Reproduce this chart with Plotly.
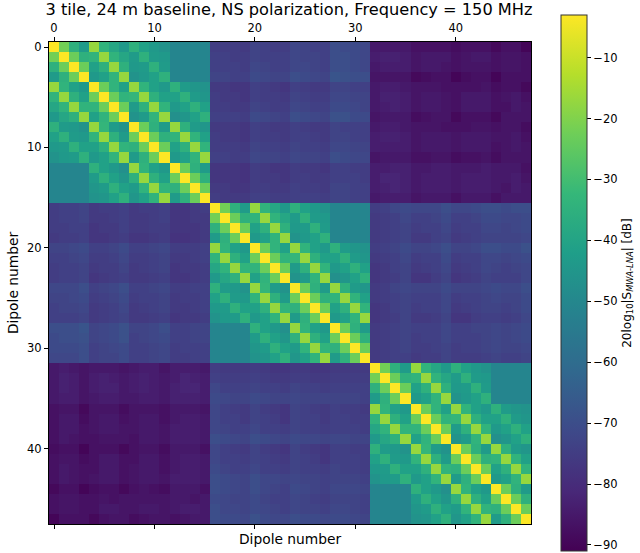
import numpy as np
import plotly.graph_objects as go

# Same-tile coupling in dB (16 dipoles per tile)
tile_self = [
 [-3,-22,-35,-43,-17,-34,-39,-44,-35,-41,-44,-46,-51,-51,-51,-51],
 [-22,-3,-23,-35,-34,-17,-34,-39,-43,-35,-43,-44,-51,-51,-51,-51],
 [-35,-23,-3,-23,-41,-35,-17,-35,-44,-43,-35,-43,-51,-51,-51,-51],
 [-43,-35,-23,-3,-44,-41,-34,-17,-46,-44,-41,-35,-51,-51,-51,-51],
 [-17,-34,-41,-44,-3,-23,-34,-41,-17,-34,-41,-44,-35,-43,-45,-46],
 [-34,-17,-35,-41,-23,-3,-23,-34,-33,-17,-35,-41,-41,-35,-43,-45],
 [-39,-34,-17,-34,-34,-23,-3,-23,-43,-35,-17,-34,-44,-41,-35,-41],
 [-44,-39,-35,-17,-41,-34,-23,-3,-46,-43,-34,-17,-47,-45,-41,-35],
 [-35,-43,-44,-46,-17,-33,-43,-46,-3,-23,-35,-43,-17,-35,-43,-45],
 [-41,-35,-43,-44,-34,-17,-35,-43,-23,-3,-23,-35,-34,-17,-34,-41],
 [-44,-43,-35,-41,-41,-35,-17,-34,-35,-23,-3,-23,-41,-35,-17,-34],
 [-46,-44,-43,-35,-44,-41,-34,-17,-43,-35,-23,-3,-44,-41,-34,-17],
 [-51,-51,-51,-51,-35,-41,-44,-47,-17,-34,-41,-44,-3,-23,-35,-43],
 [-51,-51,-51,-51,-43,-35,-41,-45,-35,-17,-35,-41,-23,-3,-23,-35],
 [-51,-51,-51,-51,-45,-43,-35,-41,-43,-34,-17,-34,-35,-23,-3,-23],
 [-51,-51,-51,-51,-46,-45,-41,-35,-45,-41,-34,-17,-43,-35,-23,-3],
]
# Tile 1 (rows) against tile 2 (columns)
tile1_tile2 = [
 [-75,-75,-75,-76,-73,-74,-75,-75,-72,-73,-74,-74,-70,-71,-71,-72],
 [-74,-74,-75,-75,-73,-74,-74,-74,-72,-73,-73,-74,-70,-70,-71,-72],
 [-74,-74,-74,-75,-72,-73,-74,-74,-72,-72,-73,-74,-70,-70,-71,-72],
 [-73,-73,-74,-74,-71,-72,-73,-73,-70,-71,-72,-73,-68,-69,-70,-70],
 [-76,-76,-77,-77,-74,-75,-76,-77,-74,-75,-76,-76,-73,-73,-74,-74],
 [-75,-76,-76,-77,-74,-75,-75,-76,-73,-74,-75,-75,-72,-72,-73,-73],
 [-75,-75,-76,-76,-73,-74,-75,-75,-72,-73,-74,-74,-71,-71,-72,-73],
 [-74,-74,-74,-75,-71,-72,-73,-74,-70,-71,-72,-73,-69,-69,-71,-71],
 [-76,-76,-76,-77,-74,-75,-76,-76,-74,-75,-76,-76,-73,-74,-74,-74],
 [-75,-76,-76,-77,-74,-75,-75,-76,-74,-74,-75,-76,-73,-73,-74,-74],
 [-75,-75,-75,-76,-73,-74,-74,-75,-73,-74,-74,-75,-72,-72,-73,-73],
 [-74,-74,-75,-75,-72,-73,-73,-74,-72,-73,-73,-74,-70,-71,-72,-72],
 [-77,-77,-77,-78,-75,-76,-77,-77,-75,-76,-76,-77,-74,-74,-75,-75],
 [-77,-77,-77,-78,-75,-76,-76,-77,-75,-75,-76,-76,-74,-74,-74,-75],
 [-76,-76,-77,-77,-75,-75,-76,-76,-74,-75,-75,-76,-73,-73,-74,-74],
 [-75,-76,-76,-76,-74,-74,-75,-75,-74,-74,-74,-75,-73,-73,-74,-74],
]
# Tile 1 (rows) against tile 3 (columns)
tile1_tile3 = [
 [-85,-85,-85,-85,-87,-87,-87,-87,-88,-87,-87,-87,-89,-87,-87,-90],
 [-84,-83,-83,-84,-86,-85,-85,-85,-87,-86,-85,-85,-87,-86,-86,-87],
 [-85,-84,-84,-84,-86,-85,-85,-86,-87,-86,-86,-86,-87,-86,-86,-87],
 [-86,-86,-86,-86,-89,-88,-87,-87,-90,-88,-87,-87,-90,-87,-87,-87],
 [-85,-84,-84,-85,-86,-86,-86,-87,-87,-87,-87,-86,-88,-87,-87,-89],
 [-85,-83,-83,-84,-86,-85,-85,-86,-87,-85,-85,-85,-87,-86,-85,-87],
 [-85,-84,-83,-84,-86,-85,-85,-86,-87,-85,-85,-85,-87,-87,-85,-86],
 [-86,-85,-85,-85,-88,-87,-86,-86,-89,-87,-87,-87,-89,-86,-86,-86],
 [-85,-84,-84,-85,-86,-86,-86,-87,-87,-87,-86,-86,-87,-86,-86,-88],
 [-84,-83,-83,-84,-86,-85,-85,-85,-86,-85,-85,-85,-86,-86,-85,-87],
 [-84,-84,-84,-84,-86,-85,-85,-85,-86,-85,-85,-85,-87,-86,-85,-86],
 [-86,-85,-85,-85,-87,-87,-86,-86,-88,-87,-87,-86,-88,-86,-86,-86],
 [-84,-84,-83,-83,-85,-85,-84,-84,-85,-85,-85,-84,-85,-85,-85,-87],
 [-84,-82,-82,-83,-85,-84,-84,-84,-85,-84,-84,-84,-85,-85,-84,-86],
 [-84,-83,-82,-83,-85,-84,-84,-84,-85,-84,-84,-84,-85,-86,-84,-85],
 [-85,-84,-84,-84,-86,-85,-85,-85,-87,-85,-85,-85,-87,-85,-85,-85],
]
# Tile 2 (rows) against tile 3 (columns)
tile2_tile3 = [
 [-75,-74,-72,-71,-72,-72,-72,-70,-72,-72,-71,-70,-70,-71,-70,-70],
 [-76,-75,-74,-72,-74,-74,-73,-71,-74,-74,-73,-71,-71,-72,-72,-71],
 [-76,-75,-74,-73,-75,-74,-74,-72,-75,-74,-74,-72,-72,-73,-72,-71],
 [-76,-75,-74,-73,-76,-76,-74,-73,-76,-75,-74,-73,-73,-73,-73,-72],
 [-75,-74,-73,-71,-73,-73,-72,-70,-73,-73,-72,-70,-70,-71,-71,-69],
 [-76,-75,-74,-72,-75,-74,-74,-71,-75,-74,-74,-72,-72,-73,-72,-71],
 [-77,-76,-74,-73,-76,-75,-74,-72,-76,-75,-74,-72,-73,-74,-73,-72],
 [-77,-76,-75,-73,-77,-77,-75,-73,-77,-76,-75,-73,-74,-74,-74,-72],
 [-76,-75,-73,-72,-73,-73,-73,-71,-73,-73,-73,-72,-71,-72,-72,-70],
 [-76,-75,-74,-73,-74,-74,-74,-72,-75,-74,-74,-73,-72,-73,-73,-71],
 [-77,-76,-74,-73,-75,-74,-74,-72,-76,-75,-74,-73,-73,-74,-73,-71],
 [-77,-76,-75,-73,-76,-76,-75,-73,-77,-77,-75,-74,-74,-75,-74,-72],
 [-76,-75,-74,-73,-74,-74,-74,-72,-74,-74,-73,-73,-72,-73,-72,-71],
 [-76,-75,-74,-73,-75,-74,-74,-72,-74,-74,-74,-73,-72,-73,-72,-71],
 [-76,-75,-74,-73,-75,-75,-74,-73,-75,-74,-74,-73,-72,-73,-73,-72],
 [-76,-75,-74,-74,-76,-75,-75,-73,-75,-75,-75,-74,-73,-74,-74,-73],
]
tick_values = [0, 10, 20, 30, 40]
colorbar_ticks = [-10, -20, -30, -40, -50, -60, -70, -80, -90]
title_text = "3 tile, 24 m baseline, NS polarization, Frequency = 150 MHz"
axis_label = "Dipole number"

D = np.array(tile_self, float)
A = np.array(tile1_tile2, float)
B = np.array(tile1_tile3, float)
C = np.array(tile2_tile3, float)
Z = np.block([[D, A, B], [A.T, D, C], [B.T, C.T, D]])

font = "DejaVu Sans"
fig = go.Figure(go.Heatmap(
    z=Z, x=list(range(48)), y=list(range(48)), colorscale="Viridis",
    zmin=-91, zmax=-3, hoverongaps=False,
    colorbar=dict(
        thickness=26, thicknessmode="pixels", len=536, lenmode="pixels",
        x=1.0622, xanchor="left", xpad=0, y=1+27/482, yanchor="top", ypad=0,
        tickvals=colorbar_ticks, ticks="outside", ticklen=4, tickcolor="#000",
        outlinecolor="#333", outlinewidth=1,
        tickfont=dict(family=font, size=11.5, color="#000"),
        title=dict(text="\u00a0\u00a0\u00a0\u00a0\u00a020log<sub>10</sub>|S<sub><i>MWA-LNA</i></sub>| [dB]",
                   side="right", font=dict(family=font, size=12, color="#000")),
    ),
))
fig.update_layout(
    width=640, height=553, margin=dict(l=49, r=109, t=42, b=29, autoexpand=False),
    paper_bgcolor="white", plot_bgcolor="white",
    font=dict(family=font, color="#000"),
    title=dict(text=title_text, x=289/640, xanchor="center", y=1-4/553, yanchor="top",
               font=dict(family=font, size=16.2, color="#000"), pad=dict(t=0, b=0)),
    annotations=[dict(text=axis_label, xref="paper", yref="paper", x=0.5, y=-0.0105,
                      xanchor="center", yanchor="top", showarrow=False,
                      font=dict(family=font, size=13.8, color="#000"))],
)
fig.update_xaxes(side="top", range=[-0.5, 47.5], tickvals=tick_values, ticks="outside", ticklen=4,
                 tickcolor="#000", showline=True, linecolor="#000", linewidth=1, mirror="ticks",
                 showgrid=False, zeroline=False, automargin=False,
                 tickfont=dict(family=font, size=11.5, color="#000"))
fig.update_yaxes(range=[47.5, -0.5], tickvals=tick_values, ticks="outside", ticklen=4, tickcolor="#000",
                 showline=True, linecolor="#000", linewidth=1, mirror=True, showgrid=False, zeroline=False,
                 automargin=False, tickfont=dict(family=font, size=11.5, color="#000"),
                 title=dict(text=axis_label, standoff=5, font=dict(family=font, size=13.8, color="#000")))
fig.write_html("out.html", config={"displayModeBar": False},
               post_script="document.body.style.margin='0';document.body.style.overflow='hidden';")
